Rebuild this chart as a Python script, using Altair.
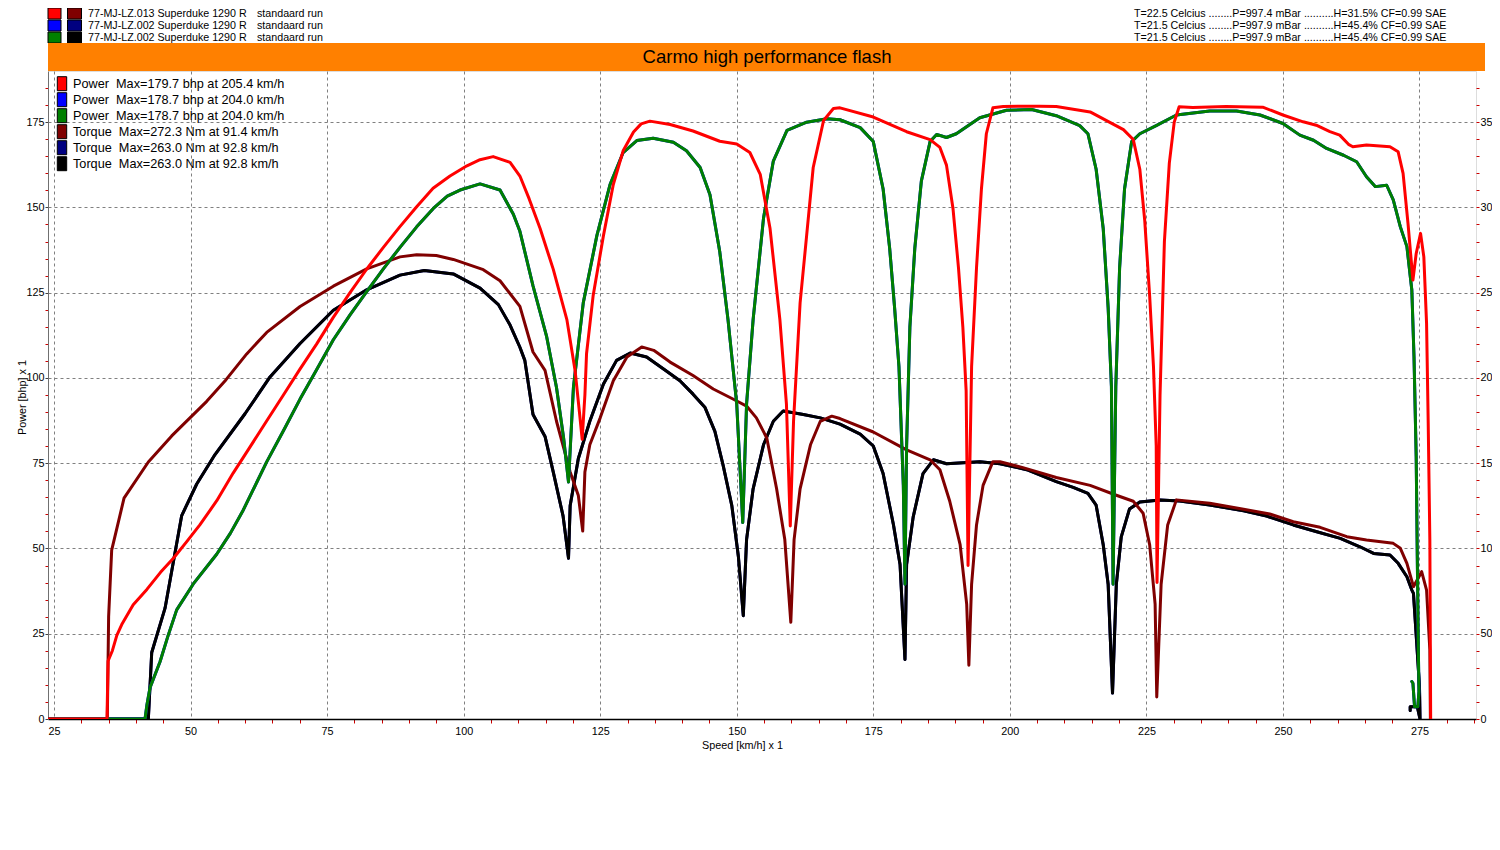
import altair as alt
import pandas as pd

# ---------------- text content ----------------
TITLE = "Carmo high performance flash"
RUN_LABELS = ["77-MJ-LZ.013 Superduke 1290 R", "77-MJ-LZ.002 Superduke 1290 R", "77-MJ-LZ.002 Superduke 1290 R"]
RUN_NOTES = ["standaard run", "standaard run", "standaard run"]
RUN_CONDITIONS = [
    "T=22.5 Celcius ........P=997.4 mBar ..........H=31.5% CF=0.99 SAE",
    "T=21.5 Celcius ........P=997.9 mBar ..........H=45.4% CF=0.99 SAE",
    "T=21.5 Celcius ........P=997.9 mBar ..........H=45.4% CF=0.99 SAE",
]
POWER_COLORS = ["#ff0000", "#0000ff", "#008000"]
TORQUE_COLORS = ["#800000", "#000080", "#000000"]
LEGEND_LABELS = [
    "Power\u00a0 Max=179.7 bhp at 205.4 km/h",
    "Power\u00a0 Max=178.7 bhp at 204.0 km/h",
    "Power\u00a0 Max=178.7 bhp at 204.0 km/h",
    "Torque\u00a0 Max=272.3 Nm at 91.4 km/h",
    "Torque\u00a0 Max=263.0 Nm at 92.8 km/h",
    "Torque\u00a0 Max=263.0 Nm at 92.8 km/h",
]
LEGEND_COLORS = POWER_COLORS + TORQUE_COLORS
X_TITLE = "Speed [km/h] x 1"
Y_TITLE = "Power [bhp] x 1"
X_TICKS = list(range(25, 290, 5))
POWER_TICKS = list(range(0, 190, 5))
TORQUE_TICKS = list(range(0, 380, 10))

# ---------------- run 013 (red / dark red) ----------------
SPEED_P013 = [23.9, 34.7, 34.9, 35.7, 36.5, 37.4, 39.5, 42.0, 44.5, 46.9, 49.3, 51.7, 54.8, 57.8, 60.9, 63.9,
              67.0, 70.0, 73.1, 76.1, 79.2, 82.2, 85.3, 88.3, 91.4, 94.4, 97.5, 100.6, 103.0, 105.4, 108.5,
              110.3, 112.0, 114.0, 116.4, 118.9, 120.4, 121.2, 121.7, 122.2, 122.5, 123.7, 125.6, 127.4, 129.2,
              131.1, 132.5, 134.1, 137.8, 142.0, 146.9, 150.0, 152.4, 154.3, 156.1, 157.9, 159.1, 159.8, 160.4,
              161.6, 162.8, 164.0, 165.9, 167.7, 168.9, 175.0, 181.1, 185.4, 187.2, 188.4, 189.6, 190.6, 191.4,
              192.0, 192.35, 193.0, 193.9, 194.8, 195.7, 196.9, 198.8, 205.4, 208.5, 214.7, 220.8, 222.6, 223.8,
              224.7, 225.6, 226.3, 226.8, 226.95, 227.5, 228.3, 229.2, 230.1, 231.0, 233.5, 239.6, 246.3, 250.0,
              253.7, 256.1, 258.6, 260.4, 262.0, 262.8, 265.3, 269.6, 271.1, 272.0, 272.9, 273.8, 274.4, 275.2,
              275.8, 276.3, 276.6, 276.9, 277.05]
BHP_013 = [0, 0, 17.0, 20.1, 24.5, 27.7, 33.5, 38.0, 43.0, 47.2, 52.0, 56.9, 64.0, 72.1, 79.8, 87.3,
           95.0, 102.5, 110.0, 117.7, 125.0, 131.8, 138.3, 144.3, 150.2, 155.6, 159.2, 162.2, 164.0, 164.9, 163.2,
           159.2, 152.5, 143.8, 131.9, 117.1, 102.2, 90.0, 82.0, 95.0, 107.1, 124.0, 141.8, 156.7, 166.6,
           172.1, 174.5, 175.3, 174.3, 172.4, 169.4, 168.6, 166.1, 159.7, 143.8, 117.1, 92.3, 56.6, 87.3,
           122.0, 141.8, 161.7, 175.5, 179.0, 179.2, 176.5, 172.2, 169.9, 167.6, 162.4, 149.6, 132.3, 114.9,
           96.3, 45.0, 103.3, 132.3, 155.4, 171.6, 179.2, 179.6, 179.7, 179.6, 178.0, 172.8, 169.9, 161.2,
           146.1, 124.1, 103.3, 80.1, 40.0, 95.0, 140.0, 163.0, 175.0, 179.5, 179.3, 179.6, 179.4, 177.1,
           175.1, 174.1, 172.2, 171.2, 168.5, 167.8, 168.3, 167.8, 166.3, 160.0, 145.3, 128.7, 136.5, 142.4,
           135.5, 116.0, 86.7, 52.5, 0]

SPEED_T013 = [23.9, 34.76, 35.0, 35.56, 37.82, 42.27, 46.55, 52.96, 56.5, 60.28, 63.94, 70.05, 76.14, 82.25,
              88.35, 91.4, 95.0, 98.1, 103.6, 106.66, 110.3, 112.7, 114.9, 117.0, 119.5, 121.0, 121.8, 122.2,
              123.1, 125.0, 127.4, 129.9, 132.6, 134.8, 137.8, 142.0, 145.7, 149.4, 151.8, 153.6, 155.5, 157.3,
              158.8, 159.9, 160.5, 161.6, 163.5, 165.3, 167.4, 168.9, 175.0, 181.1, 185.4, 187.2, 189.0, 190.9,
              192.1, 192.5, 193.0, 193.9, 195.1, 196.9, 198.2, 202.4, 208.5, 214.7, 219.5, 222.6, 224.4, 225.6,
              226.6, 226.9, 227.7, 228.9, 230.5, 236.6, 242.8, 247.6, 251.9, 256.8, 261.7, 265.3, 270.2, 271.5,
              272.7, 273.9, 275.4, 276.3, 276.9, 277.0]
NM_013 = [0, 0, 60, 99, 129.5, 150.7, 166, 186.3, 199, 214.1, 226.7, 241.9, 253.8, 264,
          271, 272.3, 271.8, 269.5, 263.5, 257, 242, 215.2, 204.4, 174.6, 144.9, 131, 110.2, 144.9,
          160.8, 176.6, 198.4, 212.3, 218.2, 216.2, 209.3, 201.4, 193.5, 187.5, 183.5, 176.6, 164.8, 135,
          105.2, 56.7, 105.2, 135, 160.8, 174.6, 177.6, 176.2, 168.3, 157.8, 152, 146.2, 127.7, 102.2,
          67.4, 31.5, 79, 113.8, 137, 150.9, 150.9, 147.4, 141.6, 137, 131.2, 127.7, 120.7, 102.2,
          67.4, 12.9, 79, 113.8, 128.5, 126.5, 123, 120.2, 115.7, 112.4, 106.9, 105, 103, 100.1,
          91.3, 77.6, 86.4, 75.6, 40.5, 0]

# ---------------- run 002 (blue / navy and green / black: same run) ----------------
SPEED_P002 = [23.9, 41.66, 42.0, 42.58, 44.41, 45.8, 47.46, 50.5, 54.78, 57.3, 59.66, 63.94, 67.0, 70.05, 73.1,
              76.14, 79.2, 82.25, 85.3, 88.35, 91.4, 94.45, 97.0, 99.34, 103.0, 106.66, 109.1, 110.3, 112.7,
              115.2, 117.0, 118.3, 119.2, 120.1, 121.9, 124.4, 126.8, 129.2, 131.7, 134.7, 138.4, 140.8, 143.3,
              145.1, 146.9, 148.4, 150.0, 151.1, 151.8, 153.0, 154.9, 156.7, 159.2, 162.8, 166.5, 168.9, 172.6,
              175.0, 176.8, 178.0, 178.9, 179.7, 180.5, 180.8, 181.1, 181.7, 182.6, 183.8, 185.4, 186.6, 188.4,
              190.2, 194.5, 199.4, 204.0, 208.5, 212.8, 214.3, 215.8, 217.1, 218.0, 218.6, 218.9, 219.4, 220.1,
              221.0, 222.3, 223.8, 226.8, 230.5, 236.6, 241.5, 245.8, 250.0, 253.1, 255.6, 258.0, 261.1, 263.5,
              265.3, 266.9, 269.0, 270.2, 271.5, 272.7, 273.6, 274.0, 274.4, 274.6, 274.8, 274.9, 274.7, 274.1,
              273.8, 273.6]
BHP_002 = [0, 0, 4.0, 9.2, 16.8, 24.0, 32.0, 39.6, 48.3, 54.5, 61.3, 75.4, 84.5, 93.8, 102.5,
           111.2, 118.5, 125.3, 132.0, 138.3, 144.3, 149.7, 153.3, 155.1, 156.9, 155.1, 148.0, 143.0, 127.0,
           112.1, 97.2, 82.4, 69.5, 97.2, 122.0, 141.8, 156.7, 166.1, 169.6, 170.3, 169.1, 166.6, 161.7,
           153.7, 136.9, 117.1, 92.3, 57.6, 92.3, 117.1, 146.8, 163.6, 172.6, 175.0, 176.0, 175.7, 173.4,
           169.3, 155.4, 138.0, 120.6, 103.3, 68.5, 39.5, 80.1, 114.9, 138.0, 157.7, 169.3, 171.4, 170.5,
           171.6, 176.3, 178.5, 178.7, 176.9, 174.0, 171.6, 161.2, 143.8, 120.6, 97.5, 39.5, 97.5, 132.3,
           155.4, 169.3, 171.6, 174.0, 177.1, 178.3, 178.3, 177.1, 174.6, 171.2, 169.7, 167.3, 165.3, 163.4,
           159.0, 156.1, 156.5, 152.2, 144.3, 138.5, 125.8, 106.2, 76.9, 47.6, 20.0, 8.0, 3.6, 3.6,
           10.5, 11.0]

SPEED_T002 = [23.9, 42.27, 42.89, 45.33, 48.38, 51.13, 54.48, 59.97, 64.55, 70.05, 76.14, 82.25, 88.35, 92.8,
              98.1, 103.0, 106.36, 108.5, 110.3, 111.2, 112.7, 114.9, 116.4, 118.2, 119.2, 119.5, 121.0, 123.1,
              125.6, 128.0, 130.5, 133.5, 136.6, 139.6, 142.0, 144.2, 146.0, 147.5, 149.1, 150.3, 151.2, 151.8,
              153.0, 154.9, 156.7, 158.5, 162.2, 165.3, 168.9, 172.6, 175.0, 176.8, 178.7, 179.9, 180.8, 181.1,
              182.3, 184.1, 186.0, 188.4, 194.5, 198.2, 203.1, 208.5, 211.6, 214.3, 215.8, 217.1, 218.0, 218.8,
              219.5, 220.4, 221.9, 223.8, 227.5, 231.1, 236.6, 242.8, 247.0, 251.9, 256.2, 260.5, 264.1, 266.6,
              269.6, 271.1, 272.7, 273.6, 273.9, 274.5, 275.0, 275.1, 274.6, 273.3, 273.3]
NM_002 = [0, 0, 39, 65, 119.3, 137.8, 155.1, 179, 200.6, 220.2, 239.7, 251.7, 260.3, 263.0,
          261, 252.7, 243, 231, 218, 210.3, 178.6, 165.7, 144.9, 119.1, 94.3, 125.1, 152.8, 174.6,
          196.4, 210.3, 214.6, 212.3, 205.3, 198.4, 190.5, 182.6, 168.7, 148.9, 125.1, 95.3, 60.6, 105.2,
          135, 160.8, 174.6, 180.6, 178.6, 176.6, 172.9, 167.1, 160.1, 143.9, 113.8, 90.6, 34.9, 90.6,
          118.4, 143.9, 152, 149.7, 150.9, 149.7, 146.2, 139.2, 135.8, 132.3, 125.4, 102.2, 79, 15.2,
          79, 106.8, 123.1, 127.2, 128.4, 127.8, 125.5, 122.1, 119, 113.8, 109.8, 105.9, 101, 97.1,
          96.2, 91.3, 83.4, 75.6, 73.7, 44.4, 18.9, 0, 7.2, 7.2, 5]

# ---------------- layout ----------------
W, H = 1428, 648
X_DOMAIN = [23.9, 285.35]
FONT = "Liberation Sans"
MINOR_RED = "#cc0000"
GRID = "#808080"
MAJOR25 = "datum.value % 25 === 0"

x_axis = alt.Axis(
    values=X_TICKS, labelExpr=f"{MAJOR25} ? datum.label : ''", labelOverlap=False, labelFlush=False,
    grid=True, gridColor=GRID, gridDash=[3, 3], gridWidth=1,
    gridOpacity={"condition": {"test": MAJOR25, "value": 1}, "value": 0},
    tickColor=MINOR_RED, tickSize=4, tickWidth=1,
    tickOpacity={"condition": {"test": MAJOR25, "value": 0}, "value": 1},
    domainColor="#000000", domainWidth=1.5,
    labelFont=FONT, labelFontSize=10.8, labelColor="#000000", labelPadding=2,
    title=X_TITLE, titleFont=FONT, titleFontSize=10.8, titleFontWeight="normal", titleColor="#000000",
    titleX=694, titleY=26, titleAlign="center", titleBaseline="middle",
)
x_enc = alt.X("speed:Q", scale=alt.Scale(domain=X_DOMAIN, nice=False, zero=False), axis=x_axis)

power_axis = alt.Axis(
    orient="left", values=POWER_TICKS, labelExpr=f"{MAJOR25} ? datum.label : ''", labelOverlap=False,
    labelFlush=False, grid=True, gridColor=GRID, gridDash=[3, 3], gridWidth=1,
    gridOpacity={"condition": {"test": f"{MAJOR25} && datum.value > 0", "value": 1}, "value": 0},
    tickColor={"condition": {"test": MAJOR25, "value": "#404040"}, "value": MINOR_RED},
    tickSize=3, tickWidth=1, domainColor="#707070", domainWidth=1,
    labelFont=FONT, labelFontSize=10.8, labelColor="#000000", labelPadding=1,
    title=Y_TITLE, titleFont=FONT, titleFontSize=10.8, titleFontWeight="normal", titleColor="#000000",
    titleX=-26, titleY=H / 2 + 2, titleAlign="center", titleBaseline="middle", titleAngle=270,
)
torque_axis = alt.Axis(
    orient="right", values=TORQUE_TICKS,
    labelExpr="datum.value === 50 ? '50' : (datum.value % 50 === 0 ? format(datum.value / 10, 'd') : '')",
    labelOverlap=False, labelFlush=False, grid=False, domain=False,
    tickColor=MINOR_RED, tickSize=3, tickWidth=1,
    labelFont=FONT, labelFontSize=10.8, labelColor="#000000", labelPadding=1, title=None,
)
power_scale = alt.Scale(domain=[0, 190], nice=False, zero=True)
torque_scale = alt.Scale(domain=[0, 380], nice=False, zero=True)


def curve(speeds, values, color, kind):
    df = pd.DataFrame({"speed": speeds, kind: values, "i": list(range(len(speeds)))})
    if kind == "bhp":
        y = alt.Y("bhp:Q", scale=power_scale, axis=power_axis)
    else:
        y = alt.Y("Nm:Q", scale=torque_scale, axis=torque_axis)
    return (alt.Chart(df)
            .mark_line(color=color, strokeWidth=3, strokeJoin="round", strokeCap="round", clip=True)
            .encode(x=x_enc, y=y, order="i:Q"))


torque_group = alt.layer(
    curve(SPEED_T002, NM_002, TORQUE_COLORS[1], "Nm"),
    curve(SPEED_T002, NM_002, TORQUE_COLORS[2], "Nm"),
    curve(SPEED_T013, NM_013, TORQUE_COLORS[0], "Nm"),
)
power_group = alt.layer(
    curve(SPEED_P002, BHP_002, POWER_COLORS[1], "bhp"),
    curve(SPEED_P002, BHP_002, POWER_COLORS[2], "bhp"),
    curve(SPEED_P013, BHP_013, POWER_COLORS[0], "bhp"),
)


def one():
    return pd.DataFrame({"k": [0]})


def text(s, x, y, size, align="left"):
    return (alt.Chart(pd.DataFrame({"t": [s]}))
            .mark_text(align=align, baseline="middle", font=FONT, fontSize=size, color="#000000")
            .encode(text="t:N", x=alt.value(x), y=alt.value(y)))


def box(x, x2, y, y2, fill, stroke=None):
    kw = {"fill": fill, "opacity": 1}
    if stroke:
        kw.update(stroke=stroke, strokeWidth=1)
    else:
        kw.update(strokeWidth=0)
    return (alt.Chart(one()).mark_rect(**kw)
            .encode(x=alt.value(x), x2=alt.value(x2), y=alt.value(y), y2=alt.value(y2)))


annotations = []
# header rows (run identification and conditions)
for i in range(3):
    cy = -57.5 + 12 * i
    annotations.append(box(0, 13, cy - 5.5, cy + 5.5, POWER_COLORS[i], "#000000"))
    annotations.append(box(19.5, 33.5, cy - 5.5, cy + 5.5, TORQUE_COLORS[i], "#000000"))
    annotations.append(text(RUN_LABELS[i], 40, cy, 10.7))
    annotations.append(text(RUN_NOTES[i], 209, cy, 10.7))
    annotations.append(text(RUN_CONDITIONS[i], 1086, cy, 10.7))
# orange title banner
annotations.append(box(0, W + 9, -28, 0, "#ff8000"))
annotations.append(text(TITLE, 719, -14, 18.5, align="center"))
# inner legend
for i in range(6):
    cy = 12.7 + 16 * i
    annotations.append(box(9.3, 18.7, cy - 7, cy + 7, LEGEND_COLORS[i], "#000000"))
    annotations.append(text(LEGEND_LABELS[i], 25, cy, 12.7))

chart = (
    alt.layer(torque_group, power_group, *annotations)
    .resolve_scale(y="independent")
    .properties(
        width=W, height=H,
        padding={"left": 40, "top": 63, "right": 16, "bottom": 40},
        autosize=alt.AutoSizeParams(type="none"),
        background="#ffffff",
    )
    .configure_view(stroke=None)
    .configure(font=FONT)
)

chart.save("out.html", embed_options={"renderer": "svg", "actions": False})
